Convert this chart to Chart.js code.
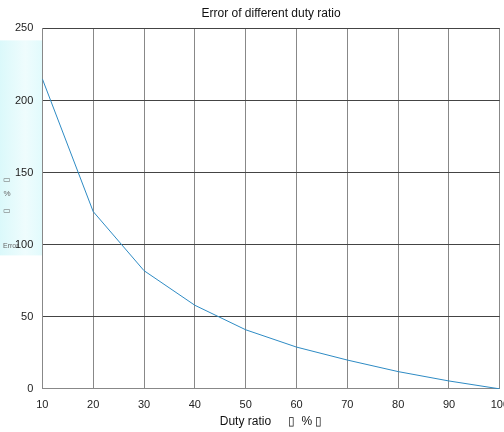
<!DOCTYPE html>
<html>
<head>
<meta charset="utf-8">
<script src="https://cdn.jsdelivr.net/npm/chart.js@4/dist/chart.umd.min.js"></script>
<style>
html,body{margin:0;padding:0;background:#fff;overflow:hidden;}
#wrap{width:518px;height:432px;position:relative;}
</style>
</head>
<body>
<div id="wrap"><canvas id="c"></canvas></div>
<script>
const dutyRatio = [10, 20, 30, 40, 50, 60, 70, 80, 90, 100];
const errorValues = [215, 123, 82, 58, 41, 29, 20, 12, 5.5, 0];
const yTicks = [0, 50, 100, 150, 200, 250];
const xTicks = [10, 20, 30, 40, 50, 60, 70, 80, 90, 100];
const yTitleParts = ['\u25AD', '%', '\u25AD'];
const yTitleWord = 'Error';

const bandPlugin = {
  id: 'band',
  beforeDraw(chart) {
    const ctx = chart.ctx;
    const a = chart.chartArea;
    ctx.save();
    const g = ctx.createLinearGradient(0, 0, a.left, 0);
    g.addColorStop(0, 'rgba(215,248,250,0.9)');
    g.addColorStop(0.6, 'rgba(237,252,253,0.9)');
    g.addColorStop(1, 'rgba(222,250,252,0.9)');
    ctx.fillStyle = g;
    ctx.fillRect(0, a.top + 12, a.left, 215);
    // stacked y-axis title (shown as in the reference)
    ctx.fillStyle = '#666';
    ctx.font = '8px "Liberation Sans", Arial, sans-serif';
    ctx.textAlign = 'center';
    ctx.textBaseline = 'middle';
    const offs = [151, 165, 182];
    yTitleParts.forEach((t, i) => ctx.fillText(t, 7, a.top + offs[i]));
    ctx.textAlign = 'left';
    ctx.font = '7px "Liberation Sans", Arial, sans-serif';
    ctx.fillText(yTitleWord, 3, a.top + 218);
    ctx.restore();
  }
};

new Chart(document.getElementById('c'), {
  type: 'line',
  data: {
    datasets: [{
      data: dutyRatio.map((x, i) => ({x: x, y: errorValues[i]})),
      borderColor: '#2e8bc4',
      borderWidth: 1,
      pointRadius: 0,
      tension: 0,
      fill: false
    }]
  },
  options: {
    responsive: true,
    maintainAspectRatio: false,
    animation: false,
    layout: {padding: {left: 6, right: 0, top: 0, bottom: 3.5}},
    plugins: {
      legend: {display: false},
      tooltip: {enabled: false},
      title: {
        display: true,
        text: 'Error of different duty ratio',
        fullSize: false,
        color: '#111',
        font: {family: 'Liberation Sans, Arial, sans-serif', size: 12, weight: 'normal'},
        padding: {top: 6, bottom: 8}
      }
    },
    scales: {
      x: {
        type: 'linear',
        min: 10, max: 100,
        afterBuildTicks(axis) { axis.ticks = xTicks.map(v => ({value: v})); },
        grid: {color: '#888', lineWidth: 1, drawTicks: false},
        border: {color: '#888'},
        ticks: {color: '#222', font: {family: 'Liberation Sans, Arial, sans-serif', size: 11}, padding: 9, maxRotation: 0},
        title: {display: true, text: 'Duty ratio     \u25AF  % \u25AF', color: '#111',
          font: {family: 'Liberation Sans, Arial, sans-serif', size: 12}, padding: {top: -6, bottom: 0}}
      },
      y: {
        min: 0, max: 250,
        afterBuildTicks(axis) { axis.ticks = yTicks.map(v => ({value: v})); },
        grid: {color: '#444', lineWidth: 1, drawTicks: false},
        border: {color: '#888'},
        ticks: {color: '#222', font: {family: 'Liberation Sans, Arial, sans-serif', size: 11}, padding: 9},
        title: {display: false}
      }
    }
  },
  plugins: [bandPlugin]
});
</script>
</body>
</html>
